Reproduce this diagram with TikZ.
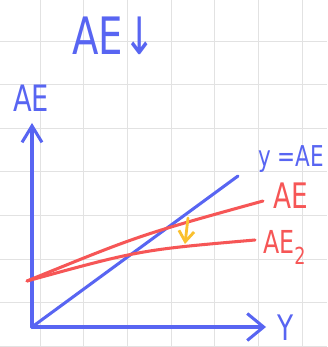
\documentclass[tikz,border=0pt]{standalone}
\usepackage{fontspec}
\setmainfont{DejaVu Sans}
\usetikzlibrary{arrows.meta}
\definecolor{penblue}{RGB}{88,101,242}
\definecolor{penred}{RGB}{246,86,86}
\definecolor{penyellow}{RGB}{250,192,46}
\definecolor{gridgray}{RGB}{226,226,226}

\begin{document}
\begin{tikzpicture}[x=0.3mm,y=-0.3mm,
  blueline/.style={penblue, line width=2.6pt, line cap=round, line join=round},
  redline/.style={penred, line width=2.6pt, line cap=round},
  hand/.style={inner sep=0pt, anchor=base west, xscale=0.75}]
\useasboundingbox (0,0) rectangle (327,347);
\fill[white] (0,0) rectangle (327,347);
% squared paper
\foreach \x in {40,83.7,...,320}
  \draw[gridgray, line width=0.8pt] (\x,0) -- (\x,347);
\foreach \y in {41,84.6,...,347}
  \draw[gridgray, line width=0.8pt] (0,\y) -- (327,\y);

% points
\coordinate (O) at (32,327);
\coordinate (Ytop) at (32,123);
\coordinate (Xend) at (266,327);
\coordinate (D) at (238,176);
\coordinate (C) at (27,281);
\coordinate (E1) at (263,201);
\coordinate (E2) at (255,240);
\coordinate (S1) at (188,218);
\coordinate (S2) at (185,244);

% texts
\node[hand, penblue, font=\fontsize{44}{44}\selectfont] (T) at (72,55) {AE↓};
\node[hand, penblue, font=\fontsize{31}{31}\selectfont] (AEax) at (13,112) {AE};
\node[hand, penblue, font=\fontsize{30}{30}\selectfont] (Yax) at (277,340) {Y};
\node[hand, penblue, font=\fontsize{24.5}{24.5}\selectfont] (L45) at (258,167) {y =AE};
\node[hand, penred, font=\fontsize{30}{30}\selectfont] (AE1) at (273,208) {AE};
\node[hand, penred, font=\fontsize{27}{27}\selectfont] (AE2) at (263,253)
  {AE\raisebox{-0.35em}{\fontsize{20}{20}\selectfont 2}};

% axes
\draw[blueline, -{Straight Barb[length=14pt,width=17pt]}] (O) -- (Ytop);
\draw[blueline, -{Straight Barb[length=14pt,width=23pt]}] (O) -- (Xend);
\draw[blueline] (O) -- (D);

% expenditure lines
\draw[redline] (C) .. controls (140,235) .. (E1);
\draw[redline] (C) .. controls (140,250) .. (E2);

% shift
\draw[penyellow, line width=2.4pt, line cap=round,
  -{Straight Barb[length=9pt,width=13pt]}] (S1) -- (S2);
\end{tikzpicture}
\end{document}
